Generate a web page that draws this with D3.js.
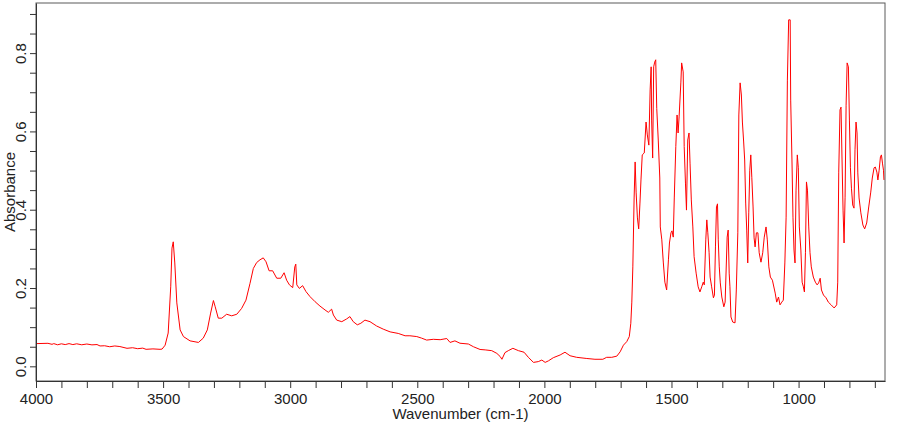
<!DOCTYPE html>
<html>
<head>
<meta charset="utf-8">
<script src="https://cdn.jsdelivr.net/npm/d3@7"></script>
<style>
body { margin: 0; background: #fff; }
svg text { font-family: "Liberation Sans", Arial, sans-serif; }
</style>
</head>
<body>
<svg id="chart" width="900" height="425"></svg>
<script>
// wavenumber (cm-1), absorbance
var highRegion = [
	[4000, 0.058], [3953, 0.0588], [3937, 0.0562], [3930, 0.058], [3915, 0.055], [3900, 0.0575],
	[3885, 0.0555], [3870, 0.058], [3855, 0.0555], [3840, 0.0575], [3820, 0.055], [3800, 0.057],
	[3780, 0.0548], [3760, 0.0556], [3748, 0.052], [3730, 0.0525], [3710, 0.050], [3690, 0.052],
	[3670, 0.0505], [3642, 0.046], [3620, 0.0475], [3600, 0.045], [3580, 0.0465], [3567, 0.0434],
	[3540, 0.0445], [3512, 0.0434], [3504, 0.044],
	[3492, 0.054], [3480, 0.085], [3470, 0.203], [3465, 0.302], [3460, 0.318],
	[3454, 0.264], [3446, 0.162], [3433, 0.093], [3420, 0.076], [3394, 0.065], [3361, 0.061],
	[3342, 0.072], [3326, 0.093], [3313, 0.136], [3302, 0.168], [3295, 0.152], [3283, 0.123],
	[3269, 0.123], [3250, 0.133], [3230, 0.129], [3210, 0.133], [3191, 0.148], [3174, 0.169],
	[3158, 0.212], [3145, 0.250], [3132, 0.265], [3119, 0.272], [3106, 0.277], [3095, 0.267],
	[3083, 0.244], [3069, 0.244], [3053, 0.225], [3037, 0.225], [3024, 0.239], [3014, 0.220],
	[3003, 0.208], [2990, 0.201], [2982, 0.254], [2978, 0.261], [2974, 0.208], [2964, 0.199],
	[2951, 0.206], [2938, 0.191], [2922, 0.178], [2902, 0.165], [2883, 0.154], [2863, 0.144],
	[2850, 0.138], [2837, 0.146], [2830, 0.131], [2817, 0.118], [2797, 0.114], [2778, 0.121],
	[2765, 0.127], [2752, 0.114], [2736, 0.106], [2722, 0.110], [2706, 0.118], [2686, 0.114],
	[2660, 0.103], [2634, 0.095], [2607, 0.088], [2575, 0.084], [2548, 0.078], [2529, 0.078],
	[2502, 0.076], [2483, 0.072], [2463, 0.067], [2437, 0.069], [2410, 0.068], [2384, 0.071],
	[2371, 0.061], [2352, 0.065], [2332, 0.059], [2299, 0.057], [2279, 0.050], [2253, 0.043],
	[2233, 0.042], [2207, 0.040], [2187, 0.033], [2174, 0.025], [2167, 0.018], [2155, 0.035],
	[2142, 0.040], [2124, 0.046], [2102, 0.040], [2080, 0.036], [2063, 0.023], [2043, 0.010],
	[2024, 0.012], [2010, 0.016], [1997, 0.010], [1984, 0.014], [1965, 0.022], [1938, 0.029],
	[1919, 0.036], [1899, 0.027], [1873, 0.023], [1833, 0.020], [1801, 0.018], [1770, 0.018],
	[1755, 0.023], [1735, 0.023], [1715, 0.026], [1702, 0.037]
];

var fingerprint = [
	[1689, 0.054], [1676, 0.063], [1666, 0.076], [1660, 0.110], [1656, 0.164], [1652, 0.254],
	[1647, 0.430], [1643, 0.522], [1639, 0.443], [1634, 0.379], [1629, 0.351], [1624, 0.417],
	[1620, 0.476], [1615, 0.540], [1607, 0.545], [1600, 0.624], [1595, 0.591], [1589, 0.565],
	[1584, 0.706], [1580, 0.765], [1578, 0.629], [1574, 0.532], [1570, 0.765], [1566, 0.777],
	[1562, 0.783], [1558, 0.659], [1552, 0.578], [1546, 0.481], [1544, 0.356], [1538, 0.323],
	[1532, 0.264], [1526, 0.215], [1519, 0.195], [1512, 0.272], [1508, 0.315], [1502, 0.341],
	[1498, 0.346], [1493, 0.330], [1489, 0.430], [1483, 0.561], [1478, 0.642], [1474, 0.596],
	[1470, 0.637], [1463, 0.726], [1460, 0.775], [1454, 0.752], [1450, 0.561], [1445, 0.468],
	[1441, 0.399], [1436, 0.578], [1431, 0.596], [1427, 0.519], [1422, 0.425], [1416, 0.356],
	[1411, 0.280], [1403, 0.238], [1395, 0.203], [1388, 0.190], [1381, 0.203], [1375, 0.215],
	[1371, 0.208], [1365, 0.323], [1361, 0.374], [1357, 0.341], [1352, 0.290], [1348, 0.228],
	[1342, 0.203], [1335, 0.175], [1331, 0.182], [1327, 0.305], [1323, 0.407], [1319, 0.415],
	[1316, 0.323], [1312, 0.254], [1308, 0.213], [1302, 0.177], [1294, 0.152], [1289, 0.164],
	[1285, 0.246], [1281, 0.330], [1277, 0.348], [1273, 0.238], [1270, 0.203], [1266, 0.126],
	[1259, 0.113], [1250, 0.111], [1245, 0.195], [1239, 0.341], [1235, 0.642], [1230, 0.724],
	[1225, 0.693], [1221, 0.624], [1216, 0.573], [1212, 0.527], [1208, 0.417], [1204, 0.348],
	[1200, 0.264], [1196, 0.392], [1192, 0.501], [1188, 0.540], [1184, 0.483], [1179, 0.407],
	[1175, 0.328], [1171, 0.305], [1166, 0.341], [1160, 0.341], [1155, 0.290], [1148, 0.266],
	[1141, 0.290], [1135, 0.330], [1128, 0.356], [1123, 0.323], [1117, 0.254], [1111, 0.228],
	[1103, 0.220], [1092, 0.187], [1086, 0.164], [1079, 0.177], [1073, 0.157], [1066, 0.164],
	[1060, 0.169], [1054, 0.264], [1049, 0.381], [1044, 0.731], [1039, 0.885], [1033, 0.885],
	[1031, 0.680], [1026, 0.527], [1022, 0.381], [1018, 0.297], [1014, 0.264], [1010, 0.450],
	[1005, 0.540], [1001, 0.507], [997, 0.356], [991, 0.297], [986, 0.215], [981, 0.203],
	[977, 0.190], [973, 0.290], [969, 0.471], [965, 0.450], [960, 0.356], [955, 0.290],
	[950, 0.254], [942, 0.228], [934, 0.215], [927, 0.208], [921, 0.213], [915, 0.225],
	[910, 0.195], [902, 0.182], [892, 0.175], [883, 0.164], [872, 0.157], [860, 0.149],
	[850, 0.157], [846, 0.215], [842, 0.496], [837, 0.655], [833, 0.662], [829, 0.527],
	[825, 0.399], [821, 0.315], [817, 0.432], [813, 0.667], [809, 0.775], [804, 0.765],
	[800, 0.629], [796, 0.507], [792, 0.455], [787, 0.412], [782, 0.404], [778, 0.553],
	[774, 0.624], [770, 0.596], [767, 0.494], [762, 0.430], [755, 0.392], [747, 0.361],
	[740, 0.351], [732, 0.366], [724, 0.407], [716, 0.445], [710, 0.481], [703, 0.507],
	[698, 0.509], [692, 0.496], [688, 0.476], [683, 0.501], [678, 0.535], [674, 0.540],
	[670, 0.519], [666, 0.501], [664, 0.476]
];

var xTicks = d3.range(4000, 650, -100);
var xLabels = [4000, 3500, 3000, 2500, 2000, 1500, 1000];
var yTicks = d3.range(0, 0.901, 0.05);
var yLabels = [0, 0.2, 0.4, 0.6, 0.8];

var spectrum = highRegion.concat(fingerprint);

var svg = d3.select("#chart");
var plotLeft = 36, plotRight = 885, plotTop = 3, plotBottom = 381;

var x = d3.scaleLinear().domain([4000, 660]).range([plotLeft, plotRight]);
var y = d3.scaleLinear().domain([-0.0375, 0.928]).range([plotBottom, plotTop]);

var line = d3.line()
	.x(function(d) { return x(d[0]); })
	.y(function(d) { return y(d[1]); });

svg.append("path")
	.datum(spectrum)
	.attr("d", line)
	.attr("fill", "none")
	.attr("stroke", "#ff0000")
	.attr("stroke-width", 1)
	.attr("stroke-linejoin", "round");

// frame
svg.append("rect")
	.attr("x", plotLeft)
	.attr("y", plotTop)
	.attr("width", plotRight - plotLeft)
	.attr("height", plotBottom - plotTop)
	.attr("fill", "none")
	.attr("stroke", "#5a5a5a")
	.attr("stroke-width", 1);

var xAxis = d3.axisBottom(x)
	.tickValues(xTicks)
	.tickSize(7)
	.tickSizeOuter(0)
	.tickPadding(5)
	.tickFormat(function(d) {
		return xLabels.indexOf(d) >= 0 ? d : "";
	});

var gx = svg.append("g")
	.attr("transform", "translate(0," + plotBottom + ")")
	.call(xAxis);

var yAxis = d3.axisLeft(y)
	.tickValues(yTicks)
	.tickSize(6)
	.tickSizeOuter(0)
	.tickFormat(function(d) {
		var r = Math.round(d * 100) / 100;
		return yLabels.indexOf(r) >= 0 ? d3.format(".1f")(r) : "";
	});

var gy = svg.append("g")
	.attr("transform", "translate(" + plotLeft + ",0)")
	.call(yAxis);

gy.selectAll(".tick text")
	.attr("x", 0)
	.attr("y", -10)
	.attr("dy", 0)
	.attr("text-anchor", "middle")
	.attr("transform", "rotate(-90)");

[gx, gy].forEach(function(g) {
	g.select(".domain").attr("stroke", "#333");
	g.selectAll(".tick line").attr("stroke", "#333");
	g.selectAll(".tick text")
		.attr("fill", "#222")
		.style("font-size", "15px");
});

svg.append("text")
	.attr("x", (plotLeft + plotRight) / 2)
	.attr("y", 419)
	.attr("text-anchor", "middle")
	.attr("fill", "#222")
	.style("font-size", "15px")
	.text("Wavenumber (cm-1)");

svg.append("text")
	.attr("transform", "translate(15," + (plotTop + plotBottom) / 2 + ") rotate(-90)")
	.attr("text-anchor", "middle")
	.attr("fill", "#222")
	.style("font-size", "15px")
	.text("Absorbance");
</script>
</body>
</html>
